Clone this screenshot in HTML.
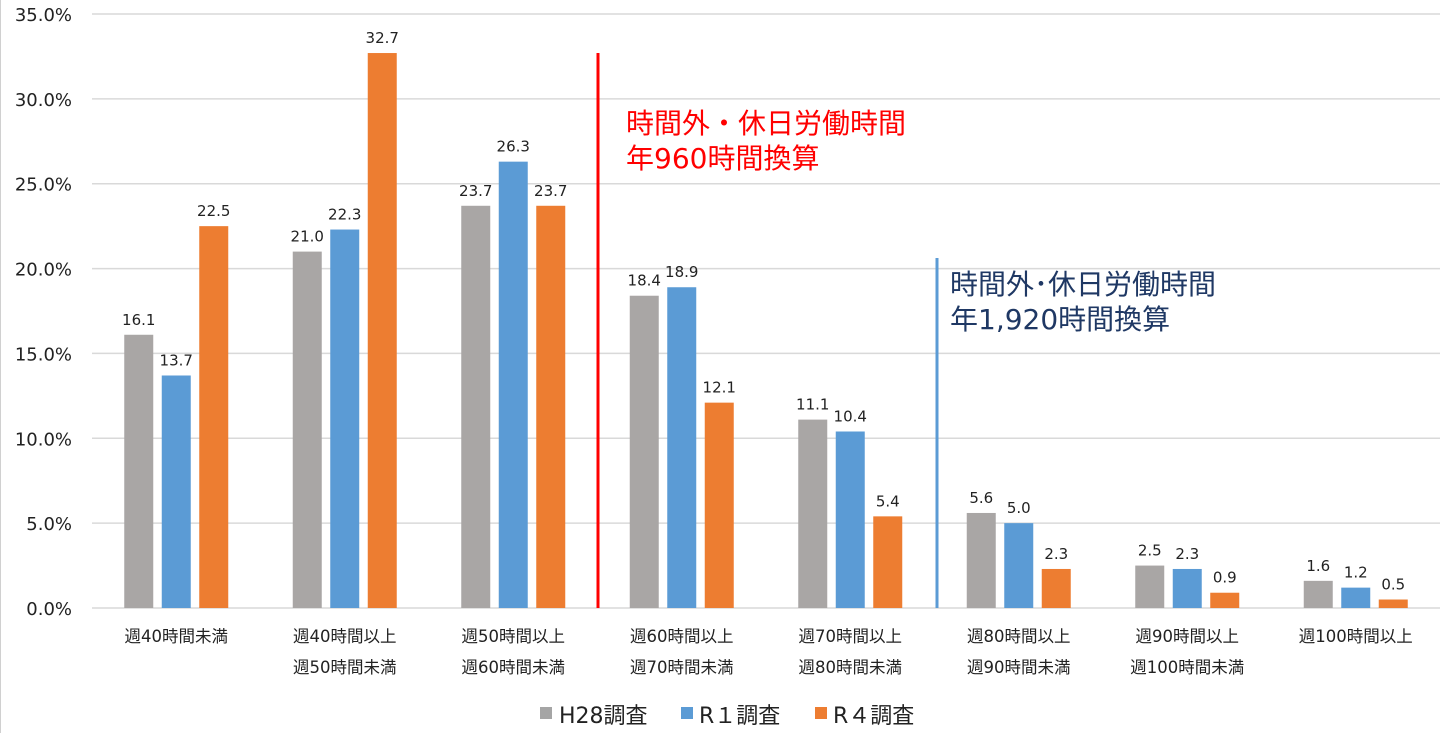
<!DOCTYPE html>
<html><head><meta charset="utf-8"><style>
body{margin:0;background:#fff;}
svg{display:block;font-family:"DejaVu Sans","Noto Sans CJK JP",sans-serif;}
</style></head><body>
<svg id="chart" width="1456" height="733">
<line x1="0.5" y1="0" x2="0.5" y2="733" stroke="#d0d0d0" stroke-width="1"/>
<g id="grid"></g><g id="bars"></g><g id="labels"></g>
<line x1="598" y1="53" x2="598" y2="608" stroke="#ff0000" stroke-width="3"/>
<line x1="937" y1="258" x2="937" y2="608" stroke="#5b9bd5" stroke-width="3"/>
<text x="626" y="133" font-size="28" fill="#ff0000"><tspan x="626">時間外・休日労働時間</tspan><tspan x="626" dy="35">年960時間換算</tspan></text>
<text x="950" y="294" font-size="28" fill="#1f3864"><tspan x="950">時間外･休日労働時間</tspan><tspan x="950" dy="35">年1,920時間換算</tspan></text>
<g>
<rect x="540" y="707" width="12" height="12" fill="#a5a5a5"/>
<text x="559" y="723" font-size="22" fill="#222">H28調査</text>
<rect x="681" y="707" width="12" height="12" fill="#5b9bd5"/>
<text x="699" y="723" font-size="22" fill="#222">R１調査</text>
<rect x="815" y="707" width="12" height="12" fill="#ed7d31"/>
<text x="833" y="723" font-size="22" fill="#222">R４調査</text>
</g>
</svg>
<script>
const categories1=["週40時間未満","週40時間以上","週50時間以上","週60時間以上","週70時間以上","週80時間以上","週90時間以上","週100時間以上"];
const categories2=["","週50時間未満","週60時間未満","週70時間未満","週80時間未満","週90時間未満","週100時間未満",""];
const h28=[16.1,21.0,23.7,18.4,11.1,5.6,2.5,1.6];
const r1=[13.7,22.3,26.3,18.9,10.4,5.0,2.3,1.2];
const r4=[22.5,32.7,23.7,12.1,5.4,2.3,0.9,0.5];
const yTicks=[0,5,10,15,20,25,30,35];
const seriesNames=["h28","r1","r4"];
const colors=["#a9a6a5","#5b9bd5","#ed7d31"];
const NS="http://www.w3.org/2000/svg";
const x0=92,x1=1440,y0=608,yTop=14,maxV=35;
const bw=(x1-x0)/categories1.length;
const ys=v=>y0-(v/maxV)*(y0-yTop);
const xc=i=>x0+bw*(i+0.5);
function mk(tag,attrs,parent){const e=document.createElementNS(NS,tag);for(const k in attrs)e.setAttribute(k,attrs[k]);parent.appendChild(e);return e;}
const grid=document.getElementById('grid'),bars=document.getElementById('bars'),labels=document.getElementById('labels');
yTicks.forEach(t=>{
 const l=mk('line',{x1:x0,x2:x1,y1:ys(t),y2:ys(t),stroke:'#d9d9d9','stroke-width':1.5},grid);
 
 
 const tx=mk('text',{x:72,y:ys(t)+7,'font-size':18,fill:'#222','text-anchor':'end'},grid);
 tx.textContent=t.toFixed(1)+'%';
 
 
});
const series=[h28,r1,r4];
categories1.forEach((c,i)=>{
 series.forEach((s,j)=>{
  const cx=xc(i)+(j-1)*37.5;
  const r=mk('rect',{x:cx-14.5,y:ys(s[i]),width:29,height:y0-ys(s[i]),fill:colors[j]},bars);
  
  
  const v=mk('text',{x:cx,y:ys(s[i])-10,'font-size':15,fill:'#222','text-anchor':'middle'},labels);
  v.textContent=s[i].toFixed(1);
  
  
 });
 const t1=mk('text',{x:xc(i),y:642,'font-size':16.5,fill:'#222','text-anchor':'middle'},labels);
 t1.textContent=c;
 
 
 if(categories2[i]){
  const t2=mk('text',{x:xc(i),y:673,'font-size':16.5,fill:'#222','text-anchor':'middle'},labels);
  t2.textContent=categories2[i];
  
  
 }
});
</script>
</body></html>
